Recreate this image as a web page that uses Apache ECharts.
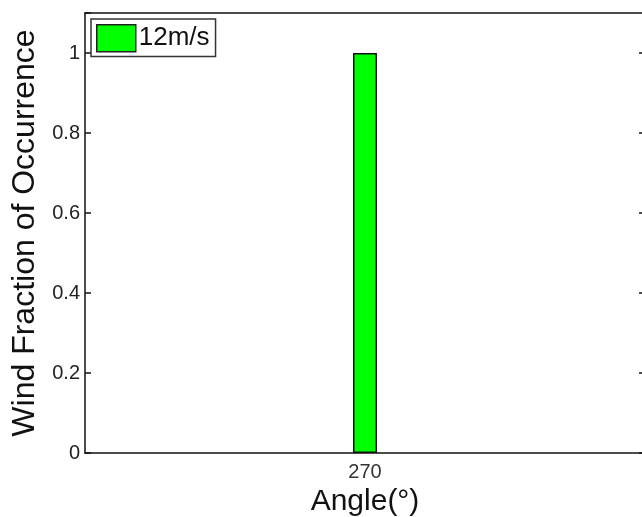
<!DOCTYPE html>
<html>
<head>
    <meta charset="UTF-8">
    <title>wind fraction</title>
    <script src="https://cdn.jsdelivr.net/npm/echarts@6/dist/echarts.min.js"></script>
    <style>
        html, body { margin: 0; padding: 0; background: #fff; }
    </style>
</head>
<body>
    <div id="bar" style="width:642px; height:517px;"></div>
    <script>
        var angles = ['270'];
        var fraction = [1];
        var seriesName = '12m/s';
        var yTicks = [0, 0.2, 0.4, 0.6, 0.8, 1];

        var chart = echarts.init(document.getElementById('bar'), null, {renderer: 'canvas'});
        var font = 'Liberation Sans, Arial, sans-serif';
        var lineStyle = {color: '#111', width: 1.5};

        chart.setOption({
            animation: false,
            grid: {left: 85, right: -3, top: 13, bottom: 64, outerBoundsMode: 'none', containLabel: false},
            legend: {
                left: 91, top: 19,
                padding: [5, 6, 4, 5],
                borderColor: '#333', borderWidth: 1.5,
                itemWidth: 39, itemHeight: 27,
                textStyle: {fontFamily: font, fontSize: 26, color: '#111', padding: [0, 0, 0, -2]},
                data: [{name: seriesName, icon: 'rect', itemStyle: {color: '#00ff00', borderColor: '#222', borderWidth: 1.5}}]
            },
            xAxis: [{
                type: 'category',
                data: angles,
                name: 'Angle(°)',
                nameLocation: 'middle',
                nameGap: 31,
                nameTextStyle: {fontFamily: font, fontSize: 30, color: '#111'},
                axisLine: {onZero: false, lineStyle: lineStyle},
                axisTick: {inside: true, alignWithLabel: true, length: 6, lineStyle: lineStyle},
                axisLabel: {fontFamily: font, fontSize: 20, color: '#333', margin: 9}
            }, {
                type: 'category',
                data: angles,
                position: 'top',
                axisLine: {onZero: false, lineStyle: lineStyle},
                axisTick: {inside: true, alignWithLabel: true, length: 6, lineStyle: lineStyle},
                axisLabel: {show: false}
            }],
            yAxis: [{
                type: 'value',
                min: 0, max: 1.1, interval: 0.2,
                name: 'Wind Fraction of Occurrence',
                nameLocation: 'middle',
                nameGap: 42,
                nameTextStyle: {fontFamily: font, fontSize: 32, color: '#111'},
                axisLine: {show: true, lineStyle: lineStyle},
                axisTick: {show: true, inside: true, length: 6, lineStyle: lineStyle},
                splitLine: {show: false},
                axisLabel: {
                    fontFamily: font, fontSize: 20, color: '#222', margin: 5,
                    customValues: yTicks,
                    formatter: function (v) { return String(+v.toFixed(1)); }
                }
            }, {
                type: 'value',
                min: 0, max: 1.1, interval: 0.2,
                position: 'right',
                axisLine: {show: true, lineStyle: lineStyle},
                axisTick: {show: true, inside: true, length: 6, lineStyle: lineStyle, customValues: yTicks},
                splitLine: {show: false},
                axisLabel: {show: false}
            }],
            series: [{
                name: seriesName,
                type: 'bar',
                data: fraction,
                barWidth: 24,
                itemStyle: {color: '#00ff00', borderColor: '#111', borderWidth: 1.5}
            }]
        });
    </script>
</body>
</html>
